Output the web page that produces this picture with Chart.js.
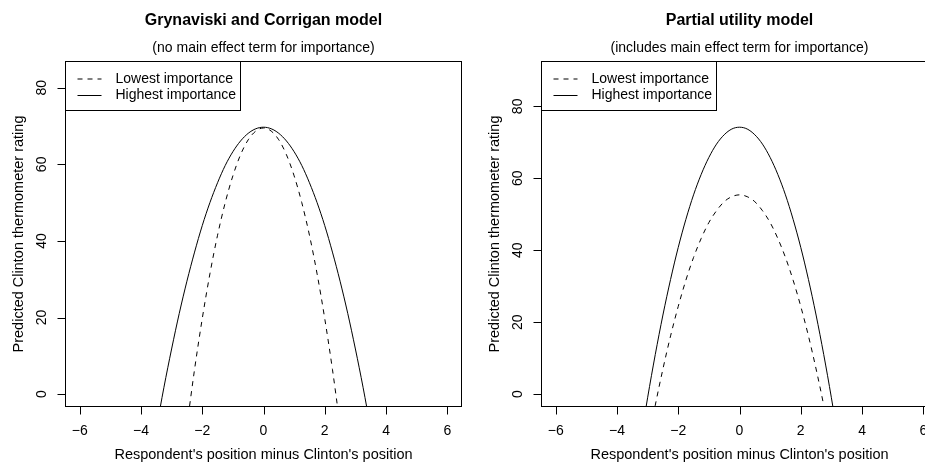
<!DOCTYPE html>
<html><head><meta charset="utf-8">
<script src="https://cdn.jsdelivr.net/npm/chart.js@4/dist/chart.umd.min.js"></script>
<style>
html,body{margin:0;padding:0;background:#fff;width:925px;height:464px;overflow:hidden;position:relative}
canvas{position:absolute;top:0}
#c1{left:0}
#c2{left:476px}
</style></head><body>
<canvas id="c1" width="476" height="464"></canvas>
<canvas id="c2" width="476" height="464"></canvas>
<script>
// ---- data ----
const xGrid = [-3.5,-3.25,-3,-2.75,-2.5,-2.25,-2,-1.75,-1.5,-1.25,-1,-0.75,-0.5,-0.25,0,0.25,0.5,0.75,1,1.25,1.5,1.75,2,2.25,2.5,2.75,3,3.25,3.5];
// Left panel: Grynaviski and Corrigan model
const gcLowest  = [null,null,null,null,-8.3,6.5,19.7,31.4,41.5,50.0,57.0,62.5,66.4,68.7,69.5,68.7,66.4,62.5,57.0,50.0,41.5,31.4,19.7,6.5,-8.3,null,null,null,null];
const gcHighest = [-9.1,1.8,11.8,21.1,29.5,37.1,44.0,50.0,55.2,59.7,63.3,66.1,68.1,69.3,69.7,69.3,68.1,66.1,63.3,59.7,55.2,50.0,44.0,37.1,29.5,21.1,11.8,1.8,-9.1];
// Right panel: Partial utility model
const puLowest  = [null,null,-14.3,-3.1,7.0,16.2,24.4,31.7,38.0,43.3,47.7,51.0,53.5,54.9,55.4,54.9,53.5,51.0,47.7,43.3,38.0,31.7,24.4,16.2,7.0,-3.1,-14.3,null,null];
const puHighest = [null,-14.1,-1.0,11.0,22.0,31.9,40.8,48.6,55.4,61.1,65.8,69.5,72.1,73.7,74.2,73.7,72.1,69.5,65.8,61.1,55.4,48.6,40.8,31.9,22.0,11.0,-1.0,-14.1,null];
const xTicks = [-6,-4,-2,0,2,4,6];
const yTicks = [0,20,40,60,80];
const seriesNames = ['Lowest importance','Highest importance'];
const xLim = [-6, 6];
const yLimLeft = [0, 83.64];
const yLimRight = [0, 89.04];

const FONT = "'Liberation Sans', Arial, Helvetica, sans-serif";
const fmt = v => (v < 0 ? '\u2212' + Math.abs(v) : String(v));
const ext = (lim) => { const d = (lim[1]-lim[0])*0.04; return [lim[0]-d, lim[1]+d]; };

const rPlot = {
  id: 'rPlot',
  afterDraw(chart, args, o) {
    const ctx = chart.ctx, a = chart.chartArea, xs = chart.scales.x, ys = chart.scales.y;
    const L = Math.round(a.left)+0.5, R = Math.round(a.right)-0.5, T = Math.round(a.top)+0.5, B = Math.round(a.bottom)-0.5;
    const cx = (L+R)/2, cy = (T+B)/2;
    ctx.save();
    ctx.strokeStyle = '#000'; ctx.fillStyle = '#000'; ctx.lineWidth = 1; ctx.setLineDash([]);
    ctx.strokeRect(L, T, R-L, B-T);
    ctx.beginPath();
    xTicks.forEach(v => { const px = Math.round(xs.getPixelForValue(v))+0.5; ctx.moveTo(px, B); ctx.lineTo(px, B+8); });
    yTicks.forEach(v => { const py = Math.round(ys.getPixelForValue(v))+0.5; ctx.moveTo(L, py); ctx.lineTo(L-8, py); });
    ctx.stroke();
    ctx.font = `14px ${FONT}`; ctx.textAlign = 'center'; ctx.textBaseline = 'middle';
    xTicks.forEach(v => ctx.fillText(fmt(v), xs.getPixelForValue(v), B+24.5));
    yTicks.forEach(v => { ctx.save(); ctx.translate(L-23.5, ys.getPixelForValue(v)); ctx.rotate(-Math.PI/2); ctx.fillText(fmt(v),0,0); ctx.restore(); });
    // axis titles
    ctx.font = `14.5px ${FONT}`;
    ctx.fillText(o.xTitle, cx, 455);
    ctx.save(); ctx.translate(18.5, cy); ctx.rotate(-Math.PI/2); ctx.fillText(o.yTitle, 0, 0); ctx.restore();
    // titles
    ctx.font = `bold 16px ${FONT}`;
    ctx.fillText(o.title, cx, 21);
    ctx.font = `14px ${FONT}`;
    ctx.fillText(o.subtitle, cx, 48);
    // legend
    ctx.fillStyle = '#fff';
    ctx.fillRect(L, T, 175, 49);
    ctx.strokeRect(L, T, 175, 49);
    ctx.fillStyle = '#000';
    const rows = [79, 95.5];
    chart.data.datasets.forEach((ds, i) => {
      ctx.beginPath();
      ctx.setLineDash(ds.borderDash || []);
      ctx.moveTo(L+12, rows[i]); ctx.lineTo(L+36, rows[i]);
      ctx.stroke();
      ctx.setLineDash([]);
      ctx.textAlign = 'left';
      ctx.font = `14px ${FONT}`;
      ctx.fillText(ds.label, L+50, rows[i]);
    });
    ctx.restore();
  }
};

function makeChart(id, low, high, yLim, title, subtitle) {
  const yr = ext(yLim), xr = ext(xLim);
  return new Chart(document.getElementById(id), {
    type: 'line',
    data: {
      datasets: [
        { label: seriesNames[0], data: xGrid.map((x,i)=>({x, y: low[i]})), borderColor: '#000', borderWidth: 1, borderDash: [5,5], pointRadius: 0, cubicInterpolationMode: 'monotone', spanGaps: false, fill: false },
        { label: seriesNames[1], data: xGrid.map((x,i)=>({x, y: high[i]})), borderColor: '#000', borderWidth: 1, pointRadius: 0, cubicInterpolationMode: 'monotone', spanGaps: false, fill: false }
      ]
    },
    options: {
      responsive: false, animation: false, devicePixelRatio: 1,
      layout: { padding: { left: 65, right: 14, top: 61, bottom: 57 } },
      scales: {
        x: { type: 'linear', min: xr[0], max: xr[1], display: false },
        y: { type: 'linear', min: yr[0], max: yr[1], display: false }
      },
      plugins: {
        legend: { display: false }, tooltip: { enabled: false },
        rPlot: { title, subtitle, xTitle: "Respondent's position minus Clinton's position", yTitle: 'Predicted Clinton thermometer rating' }
      }
    },
    plugins: [rPlot]
  });
}
makeChart('c1', gcLowest, gcHighest, yLimLeft, 'Grynaviski and Corrigan model', '(no main effect term for importance)');
makeChart('c2', puLowest, puHighest, yLimRight, 'Partial utility model', '(includes main effect term for importance)');
</script>
</body></html>
